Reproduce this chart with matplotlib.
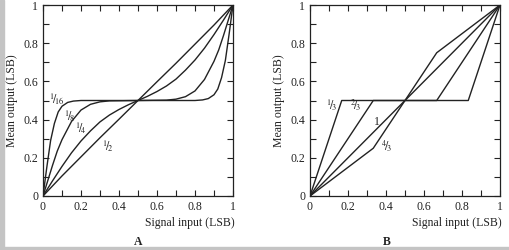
import matplotlib
matplotlib.use("Agg")
import matplotlib.pyplot as plt
from matplotlib.patches import Rectangle

plt.rcParams['font.family'] = ['Liberation Serif', 'DejaVu Serif']
plt.rcParams['mathtext.fontset'] = 'stix'

INK = '#222222'

# Panel A: Gaussian dither, curves labelled by sigma (LSB)
a_x16 = [0, 0.02, 0.04, 0.06, 0.08, 0.10, 0.13, 0.16, 0.20, 0.80, 0.84, 0.87, 0.90, 0.92, 0.94, 0.96, 0.98, 1.0]
a_y16 = [0, 0.15, 0.29, 0.38, 0.44, 0.47, 0.49, 0.497, 0.5, 0.5, 0.503, 0.51, 0.53, 0.56, 0.62, 0.71, 0.85, 1.0]

a_x8 = [0, 0.025, 0.05, 0.075, 0.10, 0.15, 0.20, 0.25, 0.30, 0.35, 0.65, 0.70, 0.75, 0.80, 0.85, 0.90, 0.925, 0.95, 0.975, 1.0]
a_y8 = [0, 0.08, 0.16, 0.235, 0.295, 0.39, 0.45, 0.48, 0.493, 0.498, 0.502, 0.507, 0.52, 0.55, 0.61, 0.705, 0.765, 0.84, 0.92, 1.0]

a_x4 = [0, 0.05, 0.10, 0.15, 0.20, 0.25, 0.30, 0.35, 0.40, 0.45, 0.50, 0.55, 0.60, 0.65, 0.70, 0.75, 0.80, 0.85, 0.90, 0.95, 1.0]
a_y4 = [0, 0.079, 0.155, 0.226, 0.288, 0.341, 0.388, 0.424, 0.453, 0.478, 0.5, 0.522, 0.547, 0.576, 0.612, 0.659, 0.712, 0.774, 0.845, 0.921, 1.0]

a_x2 = [0, 0.1, 0.2, 0.3, 0.4, 0.5, 0.6, 0.7, 0.8, 0.9, 1.0]
a_y2 = [0, 0.105, 0.205, 0.305, 0.402, 0.5, 0.598, 0.695, 0.795, 0.895, 1.0]

a_curves = [(a_x16, a_y16), (a_x8, a_y8), (a_x4, a_y4), (a_x2, a_y2)]
a_labels = [r'${}^{1}\!/\!_{16}$', r'${}^{1}\!/\!_{8}$', r'${}^{1}\!/\!_{4}$', r'${}^{1}\!/\!_{2}$']
a_label_pos = [(0.07, 0.505), (0.14, 0.42), (0.20, 0.355), (0.342, 0.262)]

# Panel B: rectangular dither, curves labelled by width (LSB)
b_x13 = [0, 0.167, 0.833, 1.0]
b_y13 = [0, 0.5, 0.5, 1.0]
b_x23 = [0, 0.333, 0.667, 1.0]
b_y23 = [0, 0.5, 0.5, 1.0]
b_x1 = [0, 1.0]
b_y1 = [0, 1.0]
b_x43 = [0, 0.333, 0.667, 1.0]
b_y43 = [0, 0.25, 0.75, 1.0]

b_curves = [(b_x13, b_y13), (b_x23, b_y23), (b_x1, b_y1), (b_x43, b_y43)]
b_labels = [r'${}^{1}\!/\!_{3}$', r'${}^{2}\!/\!_{3}$', '1', r'${}^{4}\!/\!_{3}$']
b_label_pos = [(0.114, 0.476), (0.237, 0.476), (0.35, 0.39), (0.405, 0.262)]

ticks = [0, 0.2, 0.4, 0.6, 0.8, 1.0]
tick_text = ['0', '0.2', '0.4', '0.6', '0.8', '1']
minor = [0.1, 0.3, 0.5, 0.7, 0.9]

fig = plt.figure(figsize=(5.1, 2.5), dpi=100)
fig.patch.set_facecolor('white')
fig.patches.append(Rectangle((0, 0), 4 / 510, 1, transform=fig.transFigure,
                             color='#c4c4c4', zorder=0))
fig.patches.append(Rectangle((0, 0), 1, 3 / 250, transform=fig.transFigure,
                             color='#c4c4c4', zorder=0))


def panel(left, curves, labels, label_pos, letter, letter_x):
    ax = fig.add_axes([left, 0.216, 0.3725, 0.764])
    for xs, ys in curves:
        ax.plot(xs, ys, color=INK, lw=1.0)
    for lab, (tx, ty) in zip(labels, label_pos):
        ax.text(tx, ty, lab, fontsize=8.5, color=INK, ha='center', va='center')
    ax.set_xlim(0, 1)
    ax.set_ylim(0, 1)
    ax.set_xticks(ticks)
    ax.set_xticklabels(tick_text)
    ax.set_yticks(ticks)
    ax.set_yticklabels(tick_text)
    ax.set_xticks(minor, minor=True)
    ax.set_yticks(minor, minor=True)
    ax.tick_params(which='both', direction='in', top=True, right=True,
                   length=4, width=0.8, color=INK, labelsize=8.5,
                   labelcolor=INK, pad=3.5)
    for s in ax.spines.values():
        s.set_color(INK)
        s.set_linewidth(0.9)
    ax.text(1.01, -0.141, 'Signal input (LSB)', transform=ax.transAxes,
            ha='right', va='center', fontsize=8.5, color=INK)
    ax.text(-0.165, 0.5, 'Mean output (LSB)', transform=ax.transAxes,
            rotation=90, ha='center', va='center', fontsize=8.5, color=INK)
    fig.text(letter_x, 1 - 242 / 250, letter, fontsize=8.5, fontweight='bold',
             ha='center', va='center', color=INK)
    return ax


panel(43 / 510, a_curves, a_labels, a_label_pos, 'A', 138 / 510)
panel(310 / 510, b_curves, b_labels, b_label_pos, 'B', 387 / 510)

fig.savefig('out.png', dpi=100)
